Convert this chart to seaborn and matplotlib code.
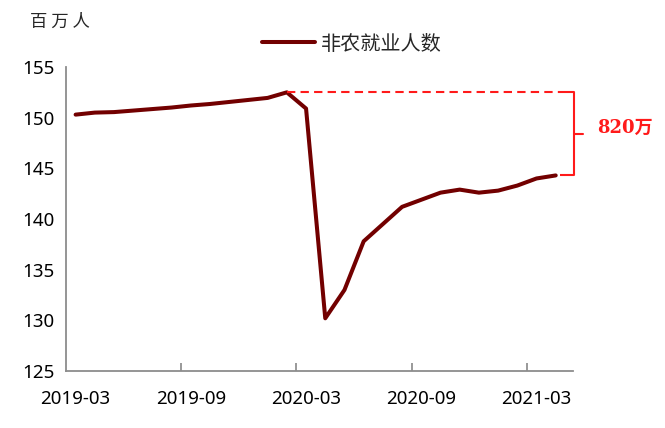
import pandas as pd
import matplotlib.pyplot as plt
import seaborn as sns

sns.set_theme(style="white")
plt.rcParams['font.family'] = ['Noto Sans', 'Noto Sans CJK SC', 'DejaVu Sans']

# Monthly nonfarm payrolls, millions
months = ['2019-03', '2019-04', '2019-05', '2019-06', '2019-07', '2019-08',
          '2019-09', '2019-10', '2019-11', '2019-12', '2020-01', '2020-02',
          '2020-03', '2020-04', '2020-05', '2020-06', '2020-07', '2020-08',
          '2020-09', '2020-10', '2020-11', '2020-12', '2021-01', '2021-02',
          '2021-03', '2021-04']
payrolls = [150.3, 150.5, 150.55, 150.7, 150.85, 151.0, 151.2, 151.35, 151.55,
            151.75, 151.95, 152.5, 150.9, 130.2, 133.0, 137.8, 139.5, 141.2,
            141.9, 142.6, 142.9, 142.6, 142.8, 143.3, 144.0, 144.3]
tick_labels = ['2019-03', '2019-09', '2020-03', '2020-09', '2021-03']
series_name = '非农就业人数'
gap_label = '820万'

df = pd.DataFrame({'idx': range(len(months)), 'month': months, 'value': payrolls})

fig = plt.figure(figsize=(6.65, 4.28), dpi=100)
ax = fig.add_axes([66 / 665, 1 - 371 / 428, (573 - 66) / 665, (371 - 67) / 428])

sns.lineplot(data=df, x='idx', y='value', ax=ax, color='#720000', linewidth=2.9,
             label=series_name, legend=False)

ax.set_xlim(-0.5, 25.9)
ax.set_ylim(125, 155)
ax.set_yticks([125, 130, 135, 140, 145, 150, 155])
pos = [months.index(m) for m in tick_labels]
ax.set_xticks(pos)
ax.set_xticklabels(tick_labels)
ax.set_xticks([p - 0.5 for p in pos[1:]], minor=True)
ax.tick_params(axis='both', which='major', length=0, labelsize=13.5, colors='black')
ax.tick_params(axis='x', which='major', pad=14)
ax.tick_params(axis='y', which='major', pad=8)
ax.tick_params(axis='x', which='minor', direction='in', length=6, width=1.2,
               color='#888888', bottom=True)
ax.set_xlabel('')
ax.set_ylabel('')
for s in ['top', 'right']:
    ax.spines[s].set_visible(False)
for s in ['left', 'bottom']:
    ax.spines[s].set_color('#8c8c8c')
    ax.spines[s].set_linewidth(1.3)

# gap annotation
peak_i = payrolls.index(max(payrolls[:13]))
peak = payrolls[peak_i]
last = payrolls[-1]
last_i = len(payrolls) - 1
bx = 25.95
red = '#ff1a1a'
ax.plot([peak_i, bx - 0.45], [peak, peak], ls=(0, (4, 2.5)), color=red, lw=1.5, clip_on=False)
ax.plot([last_i + 0.2, bx - 0.45], [last, last], ls=(0, (4, 2.5)), color=red, lw=1.5, clip_on=False)
ax.plot([bx - 0.45, bx, bx, bx - 0.45], [peak, peak, last, last], color=red, lw=1.5, clip_on=False)
mid = (peak + last) / 2
ax.plot([bx, bx + 0.45], [mid, mid], color=red, lw=1.5, clip_on=False)
ax.text(bx + 1.2, mid + 0.6, gap_label, color=red, fontsize=13, fontweight='bold',
        family=['DejaVu Serif', 'Noto Sans CJK SC'], va='center', ha='left')

fig.text(30 / 665, 1 - 22 / 428, '百 万 人', fontsize=12.5, family=['Noto Sans CJK SC'],
         va='center', ha='left')

handles, labels = ax.get_legend_handles_labels()
leg = fig.legend(handles, labels, loc='center', bbox_to_anchor=(352 / 665, 1 - 44 / 428),
                 frameon=False, handlelength=2.6, handletextpad=0.3,
                 prop={'family': ['Noto Sans CJK SC'], 'size': 14.5})

fig.savefig('out.png', dpi=100)
